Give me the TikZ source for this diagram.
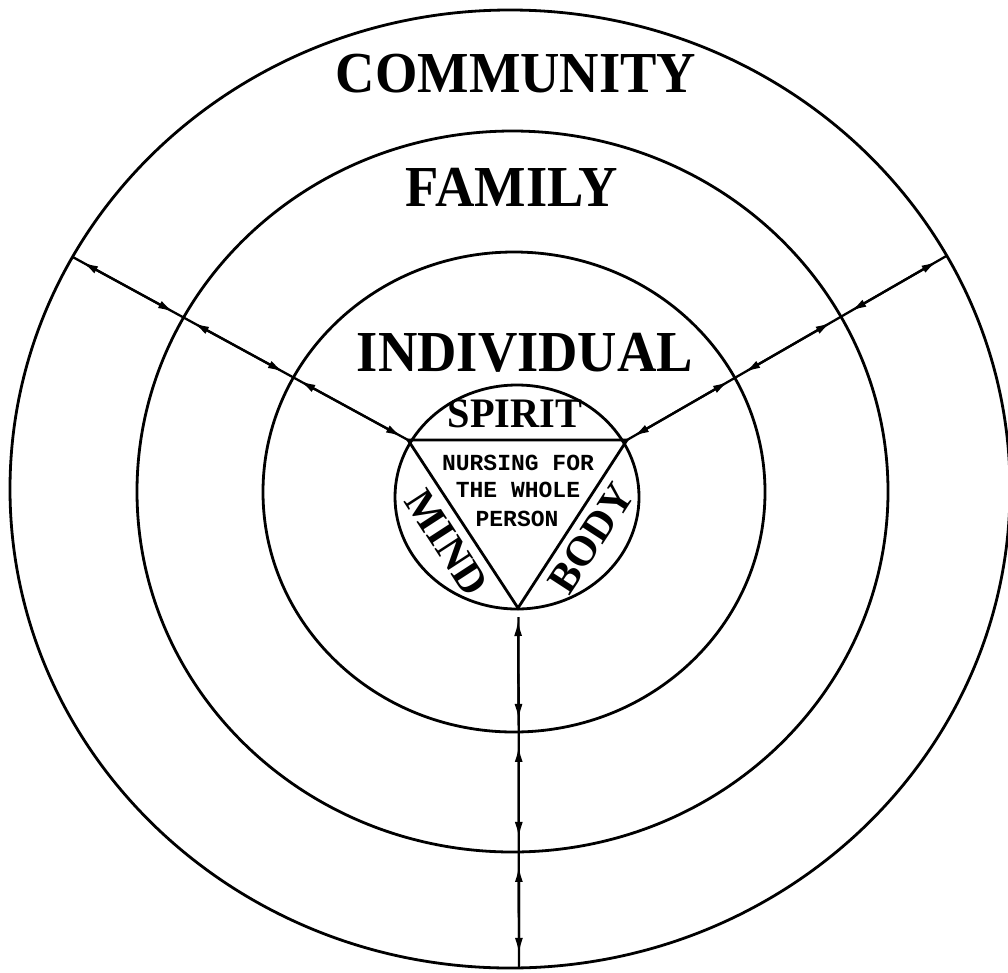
\documentclass[tikz,border=0pt]{standalone}
\usepackage{fontspec}
\setmainfont{Liberation Serif}
\newfontfamily\monofnt{Liberation Mono}
\usetikzlibrary{arrows.meta,intersections,calc}
\tikzset{
  ring/.style={line width=2.8pt},
  link/.style={line width=2.3pt},
  tipseg/.style={line width=2.3pt, {Latex[length=16pt,width=8pt]}-{Latex[length=16pt,width=8pt]}, shorten <=#1, shorten >=#1},
  bigtxt/.style={font=\fontsize{58}{58}\selectfont\bfseries, xscale=0.94, inner sep=0pt},
  midtxt/.style={font=\fontsize{42}{42}\selectfont\bfseries, inner sep=0pt},
  monotxt/.style={font=\fontsize{23}{23}\monofnt\bfseries, inner sep=0pt},
}
\begin{document}
\begin{tikzpicture}[x=1pt,y=-1pt]
\useasboundingbox (0,0) rectangle (1008,972);
% rings
\draw[ring, name path=outer] (510,489) ellipse [x radius=500pt, y radius=479pt];
\draw[ring, name path=fam] (512.5,491.5) ellipse [x radius=375.5pt, y radius=360.5pt];
\draw[ring, name path=indiv] (514,492) ellipse [x radius=251pt, y radius=240pt];
\draw[ring] (517,497) ellipse [x radius=122pt, y radius=112pt];
% triangle
\coordinate (VL) at (408,440);
\coordinate (VR) at (627,440);
\coordinate (VB) at (518,608);
\coordinate (VBs) at (518.5,617);
\draw[ring] (VL) -- (VR) -- (VB) -- cycle;
% rays
\coordinate (farL) at (13,224.4);
\coordinate (farR) at (1016.9,215.3);
\coordinate (farB) at (519,1000);
\path[name path=rayL] (VL) -- (farL);
\path[name path=rayR] (VR) -- (farR);
\path[name path=rayB] (VBs) -- (farB);
\path[name intersections={of=rayL and indiv, by=LI}];
\path[name intersections={of=rayL and fam, by=LF}];
\path[name intersections={of=rayL and outer, by=LO}];
\path[name intersections={of=rayR and indiv, by=RI}];
\path[name intersections={of=rayR and fam, by=RF}];
\path[name intersections={of=rayR and outer, by=RO}];
\path[name intersections={of=rayB and indiv, by=BI}];
\path[name intersections={of=rayB and fam, by=BF}];
\path[name intersections={of=rayB and outer, by=BO}];
% connectors
\draw[link] (VL) -- (LO);
\draw[link] (VR) -- (RO);
\draw[link] (VBs) -- (BO);
\draw[tipseg=7pt] (VL) -- (LI);
\draw[tipseg=11pt] (LI) -- (LF);
\draw[tipseg=11pt] (LF) -- (LO);
\draw[tipseg=7pt] (VR) -- (RI);
\draw[tipseg=11pt] (RI) -- (RF);
\draw[tipseg=11pt] (RF) -- (RO);
\draw[tipseg=12pt] (VB) -- (BI);
\draw[tipseg=14pt] (BI) -- (BF);
\draw[tipseg=14pt] (BF) -- (BO);
% labels
\node[bigtxt] (community) at (516,74) {COMMUNITY};
\node[bigtxt] (family) at (512,187) {FAMILY};
\node[bigtxt] (individual) at (525,353) {INDIVIDUAL};
\node[midtxt, xscale=0.96] (spirit) at (515,414) {SPIRIT};
\node[midtxt, rotate=-57] (mind) at (447,543) {MIND};
\node[midtxt, rotate=57] (body) at (591,538) {BODY};
\node[monotxt] (n1) at (518,463) {NURSING FOR};
\node[monotxt] (n2) at (518,490) {THE WHOLE};
\node[monotxt] (n3) at (517,519) {PERSON};
\end{tikzpicture}
\end{document}
